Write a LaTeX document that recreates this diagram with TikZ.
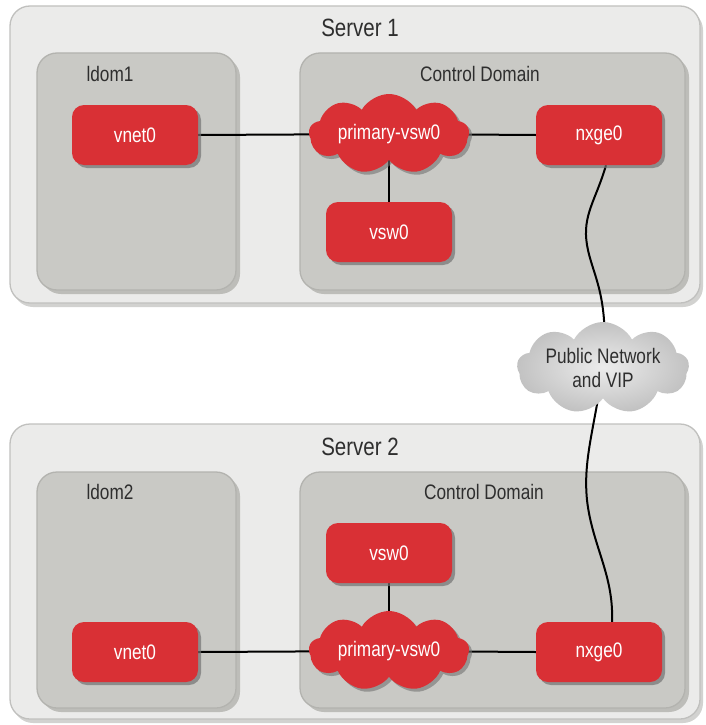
\documentclass[tikz,border=0pt]{standalone}
\usepackage{fontspec}
\setmainfont{Liberation Sans}[FakeStretch=0.82]
\usetikzlibrary{shapes.symbols,shadows}
\definecolor{redn}{HTML}{D93035}
\definecolor{outerfill}{HTML}{EBEBEA}
\definecolor{outerdraw}{HTML}{C0C0BE}
\definecolor{outershadow}{HTML}{D2D2D0}
\definecolor{innerfill}{HTML}{C9C9C5}
\definecolor{innerdraw}{HTML}{B3B3AF}
\definecolor{innershadow}{HTML}{BDBDB9}
\definecolor{txt}{HTML}{2E2E2E}
\pgfdeclarelayer{back}
\pgfdeclarelayer{mid}
\pgfsetlayers{back,mid,main}
\tikzset{
  outerbox/.style={draw=outerdraw, line width=1.3pt, fill=outerfill, rounded corners=20pt,
    anchor=north west, inner sep=0pt, outer sep=0pt,
    drop shadow={shadow xshift=3pt, shadow yshift=-4pt, fill=outershadow, opacity=1}},
  innerbox/.style={draw=innerdraw, line width=1.3pt, fill=innerfill, rounded corners=20pt,
    anchor=north west, inner sep=0pt, outer sep=0pt,
    drop shadow={shadow xshift=4pt, shadow yshift=-4pt, fill=innershadow, opacity=1}},
  rednode/.style={fill=redn, rounded corners=12pt, minimum width=126pt, minimum height=60pt,
    inner sep=0pt, text=white, font=\fontsize{21}{24}\selectfont,
    drop shadow={shadow xshift=3pt, shadow yshift=-3pt, fill=black!55, opacity=0.7}},
  redcloud/.style={cloud, cloud puffs=9, cloud puff arc=120, cloud ignores aspect,
    minimum width=160pt, minimum height=80pt, inner sep=0pt, fill=redn, text=white,
    font=\fontsize{21}{24}\selectfont,
    drop shadow={shadow xshift=3pt, shadow yshift=-3pt, fill=black!55, opacity=0.6}},
  graycloud/.style={cloud, cloud puffs=9, cloud puff arc=125, cloud ignores aspect,
    minimum width=172pt, minimum height=92pt, inner sep=0pt,
    inner color=gray!15, outer color=gray!48, text=txt, align=center,
    font=\fontsize{21}{24}\selectfont},
  title/.style={text=txt, font=\fontsize{25}{28}\selectfont},
  label/.style={text=txt, font=\fontsize{21}{24}\selectfont},
  link/.style={line width=2pt, black}
}
\begin{document}
\begin{tikzpicture}[x=1pt,y=-1pt]
\useasboundingbox (0,0) rectangle (706,725);
\begin{pgfonlayer}{back}
  % Server 1
  \node[outerbox, minimum width=690pt, minimum height=297pt] (srv1) at (10,6) {};
  \node[innerbox, minimum width=199pt, minimum height=237pt] (ld1) at (37,53) {};
  \node[innerbox, minimum width=385pt, minimum height=237pt] (cd1) at (300,53) {};
  % Server 2
  \node[outerbox, minimum width=690pt, minimum height=295pt] (srv2) at (10,424) {};
  \node[innerbox, minimum width=199pt, minimum height=236pt] (ld2) at (37,472) {};
  \node[innerbox, minimum width=385pt, minimum height=236pt] (cd2) at (300,472) {};
\end{pgfonlayer}

\node[title] (t1) at (360,28) {Server 1};
\node[label] (l1) at (110,74) {ldom1};
\node[label] (c1) at (480,74) {Control Domain};
\node[title] (t2) at (360,447) {Server 2};
\node[label] (l2) at (110,492) {ldom2};
\node[label] (c2) at (484,492) {Control Domain};

% Server 1 nodes
\node[rednode] (vnetA) at (135,135) {vnet0};
\node[redcloud] (pvA) at (389,134) {primary-vsw0};
\node[rednode] (nxA) at (599,135) {nxge0};
\node[rednode] (vswA) at (389,232) {vsw0};

% Server 2 nodes
\node[rednode] (vswB) at (389,553) {vsw0};
\node[rednode] (vnetB) at (135,652) {vnet0};
\node[redcloud] (pvB) at (389,651) {primary-vsw0};
\node[rednode] (nxB) at (599,652) {nxge0};

% public network
\node[graycloud] (pub) at (603,368) {Public Network\\and VIP};

\begin{pgfonlayer}{mid}
  \draw[link] (vnetA.east) -- (pvA.center);
  \draw[link] (pvA.center) -- (nxA.west);
  \draw[link] (pvA.center) -- (vswA.north);
  \draw[link] (vnetB.east) -- (pvB.center);
  \draw[link] (pvB.center) -- (nxB.west);
  \draw[link] (pvB.center) -- (vswB.south);
  \draw[link] ([xshift=7pt]nxA.south) .. controls (596,200) and (582,215) .. (587,245)
        .. controls (592,275) and (610,295) .. (pub.center);
  \draw[link] (pub.center) .. controls (594,430) and (583,460) .. (587,500)
        .. controls (592,545) and (614,575) .. ([xshift=13pt]nxB.north);
\end{pgfonlayer}
\end{tikzpicture}
\end{document}
